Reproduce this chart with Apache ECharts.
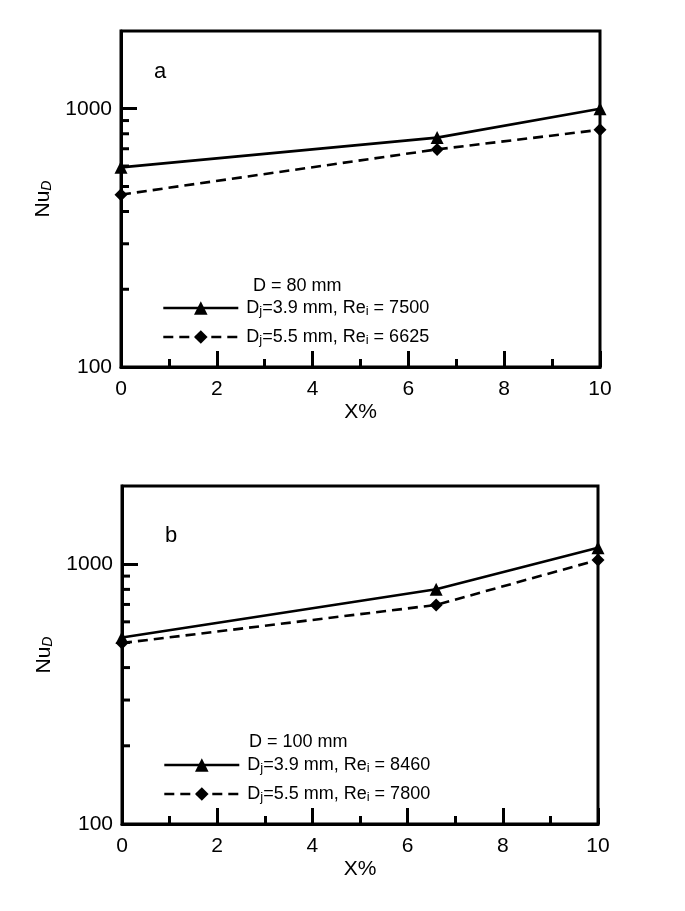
<!DOCTYPE html>
<html>
<head>
<meta charset="utf-8">
<script src="https://cdn.jsdelivr.net/npm/echarts@6/dist/echarts.min.js"></script>
<style>
html,body{margin:0;padding:0;background:#fff;}
#c{width:685px;height:911px;}
</style>
</head>
<body>
<div id="c"></div>
<script>
// ---- data ----
const xValues = [0, 6.6, 10];
const aTriangle = [593, 773, 1000];
const aDiamond = [465, 696, 829];
const bTriangle = [522, 801, 1158];
const bDiamond = [497, 697, 1039];
const aNames = ['Dj=3.9 mm, Rei = 7500', 'Dj=5.5 mm, Rei = 6625'];
const bNames = ['Dj=3.9 mm, Rei = 8460', 'Dj=5.5 mm, Rei = 7800'];
const aHeader = 'D = 80 mm';
const bHeader = 'D = 100 mm';
const panelLabels = ['a', 'b'];
const yMinorTicks = [200, 300, 400, 500, 600, 700, 800, 900];
const xAxisTitle = 'X%';

const FONT = 'Liberation Sans, Arial, sans-serif';
const pairs = (ys) => xValues.map((x, i) => [x, ys[i]]);

function richLegend(name) {
  return name.replace('Dj', 'D{sub|j}').replace('Rei', 'Re{sub|i}');
}

const grids = [
  {left: 121, right: 85, top: 31, height: 336},
  {left: 122, right: 87, top: 486, height: 338}
];

function xAxisFor(gi) {
  return {
    type: 'value', gridIndex: gi, min: 0, max: 10, interval: 2,
    name: xAxisTitle, nameLocation: 'middle', nameGap: 35,
    nameTextStyle: {color: '#000', fontSize: 21, fontFamily: FONT},
    axisLine: {show: true, lineStyle: {color: '#000', width: 3}},
    axisTick: {show: true, inside: true, length: 16, lineStyle: {color: '#000', width: 3}},
    minorTick: {show: true, splitNumber: 2, length: 8, lineStyle: {color: '#000', width: 3}},
    axisLabel: {color: '#000', fontSize: 21, fontFamily: FONT, margin: 12},
    splitLine: {show: false}, minorSplitLine: {show: false}
  };
}
function yAxisFor(gi) {
  return {
    type: 'log', logBase: 10, gridIndex: gi, min: 100, max: 2000,
    name: 'Nu{sub|D}', nameLocation: 'middle', nameGap: 64,
    nameTextStyle: {color: '#000', fontSize: 21, fontFamily: FONT,
      rich: {sub: {fontSize: 14, fontStyle: 'italic', fontFamily: FONT, color: '#000', padding: [8, 0, 0, 0]}}},
    axisLine: {show: true, lineStyle: {color: '#000', width: 3}},
    axisTick: {show: true, inside: true, length: 16, lineStyle: {color: '#000', width: 3}},
    axisLabel: {color: '#000', fontSize: 21, fontFamily: FONT, margin: 9, showMaxLabel: false,
      formatter: (v) => (Math.abs(Math.log10(v) - Math.round(Math.log10(v))) < 1e-6 ? String(Math.round(v)) : '')},
    splitLine: {show: false}
  };
}

function lineSeries(gi, name, data, symbol, dashed) {
  return {
    type: 'line', name: name, xAxisIndex: gi, yAxisIndex: gi,
    data: pairs(data), symbol: symbol, symbolSize: 13, showSymbol: true,
    clip: false,
    lineStyle: {color: '#000', width: 2.6, type: dashed ? [10, 6] : 'solid'},
    itemStyle: {color: '#000'}
  };
}
function minorTickSeries(gi) {
  return {
    type: 'custom', xAxisIndex: gi, yAxisIndex: gi, silent: true, clip: false,
    data: yMinorTicks.map(v => [0, v]),
    renderItem: function (params, api) {
      const p = api.coord([0, api.value(1)]);
      return {type: 'line', shape: {x1: p[0], y1: p[1], x2: p[0] + 8, y2: p[1]},
        style: {stroke: '#000', lineWidth: 3}};
    }
  };
}
function legendFor(names, left, top) {
  return {
    data: names, orient: 'vertical', left: left, top: top, padding: 0,
    itemWidth: 75, itemHeight: 17, itemGap: 9,
    formatter: richLegend,
    lineStyle: {width: 2.6},
    textStyle: {color: '#000', fontSize: 18, fontFamily: FONT, lineHeight: 20, padding: [0, 0, 0, 3],
      rich: {sub: {fontSize: 13, fontFamily: FONT, color: '#000', padding: [7, 0, 0, 0]}}},
    selectedMode: false
  };
}

const chart = echarts.init(document.getElementById('c'), null, {renderer: 'canvas'});
chart.setOption({
  backgroundColor: '#fff',
  animation: false,
  title: [
    {text: panelLabels[0], left: 154, top: 61, textStyle: {fontSize: 22, fontWeight: 'normal', color: '#000', fontFamily: FONT}, padding: 0},
    {text: panelLabels[1], left: 165, top: 525, textStyle: {fontSize: 22, fontWeight: 'normal', color: '#000', fontFamily: FONT}, padding: 0},
    {text: aHeader, left: 253, top: 277, textStyle: {fontSize: 18, fontWeight: 'normal', color: '#000', fontFamily: FONT}, padding: 0},
    {text: bHeader, left: 249, top: 733, textStyle: {fontSize: 18, fontWeight: 'normal', color: '#000', fontFamily: FONT}, padding: 0}
  ],
  legend: [legendFor(aNames, 162, 298), legendFor(bNames, 163, 755)],
  grid: grids.map(g => Object.assign({show: true, borderColor: '#000', borderWidth: 3, backgroundColor: 'transparent'}, g)),
  xAxis: [xAxisFor(0), xAxisFor(1)],
  yAxis: [yAxisFor(0), yAxisFor(1)],
  series: [
    lineSeries(0, aNames[0], aTriangle, 'triangle', false),
    lineSeries(0, aNames[1], aDiamond, 'diamond', true),
    lineSeries(1, bNames[0], bTriangle, 'triangle', false),
    lineSeries(1, bNames[1], bDiamond, 'diamond', true),
    minorTickSeries(0),
    minorTickSeries(1)
  ]
});
</script>
</body>
</html>
